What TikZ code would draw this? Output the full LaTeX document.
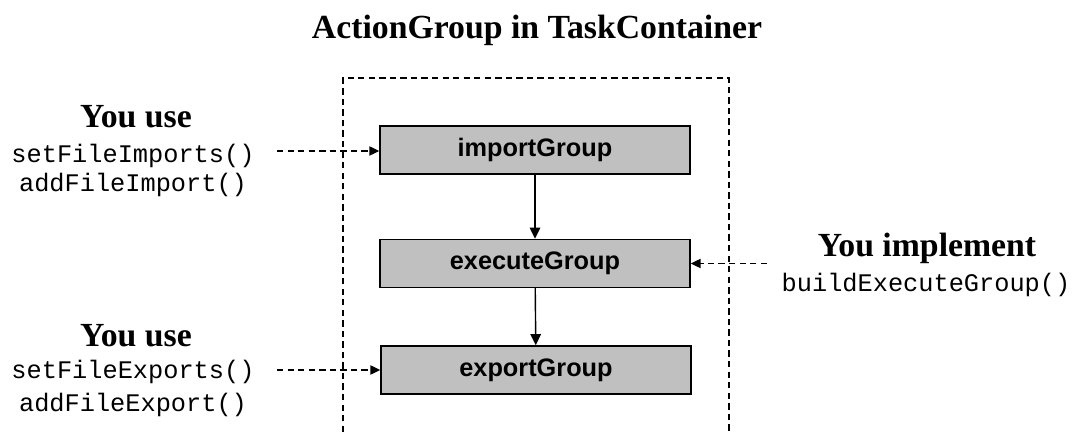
\documentclass[tikz,border=0pt]{standalone}
\usepackage{fontspec}
\setmainfont{Liberation Serif}
\setsansfont{Liberation Sans}
\setmonofont{Liberation Mono}
\usetikzlibrary{arrows.meta}
\definecolor{boxgray}{HTML}{C0C0C0}
\tikzset{
  groupbox/.style={draw=black, line width=1pt, fill=boxgray, inner sep=0pt,
    minimum width=7.75cm, minimum height=1.2cm,
    font=\sffamily\bfseries\fontsize{18}{20}\selectfont},
  heading/.style={anchor=base, inner sep=0pt, font=\bfseries\fontsize{24}{26}\selectfont},
  code/.style={anchor=base, inner sep=0pt, font=\ttfamily\fontsize{18}{20}\selectfont},
  flow/.style={line width=1pt, -{Triangle[length=8pt,width=7.5pt]}},
  hook/.style={line width=1pt, dash pattern=on 4.5pt off 3pt, -{Triangle[length=7pt,width=6.5pt]}},
  frame/.style={line width=1pt, dash pattern=on 4.5pt off 3pt}
}
\begin{document}
\begin{tikzpicture}[x=0.025cm, y=-0.025cm]
\useasboundingbox (0,0) rectangle (1073,432);

% title
\node[heading] (title) at (537,39) {ActionGroup in TaskContainer};

% the task container outline (open at the bottom)
\draw[frame] (343,432) -- (343,78) -- (729,78) -- (729,432);

% the three groups
\node[groupbox] (import)  at (535,150) {importGroup};
\node[groupbox] (execute) at (535,263.5) {executeGroup};
\node[groupbox] (export)  at (536,370) {exportGroup};

\draw[flow] (import) -- (execute);
\draw[flow] (execute) -- (export);

% left: import methods
\node[heading] (useA) at (136,128) {You use};
\node[code] (setImp) at (133,163) {setFileImports()};
\node[code] (addImp) at (133,192) {addFileImport()};
\coordinate (impStart) at (277,151);
\draw[hook] (impStart) -- (impStart -| import.west);

% left: export methods
\node[heading] (useB) at (136,347) {You use};
\node[code] (setExp) at (133,379) {setFileExports()};
\node[code] (addExp) at (133,412) {addFileExport()};
\coordinate (expStart) at (277,370);
\draw[hook] (expStart) -- (expStart -| export.west);

% right: implemented method
\node[heading] (impl) at (927,257) {You implement};
\node[code] (build) at (926,292) {buildExecuteGroup()};
\coordinate (buildStart) at (767,263.5);
\draw[hook] (buildStart) -- (execute.east);
\end{tikzpicture}
\end{document}
